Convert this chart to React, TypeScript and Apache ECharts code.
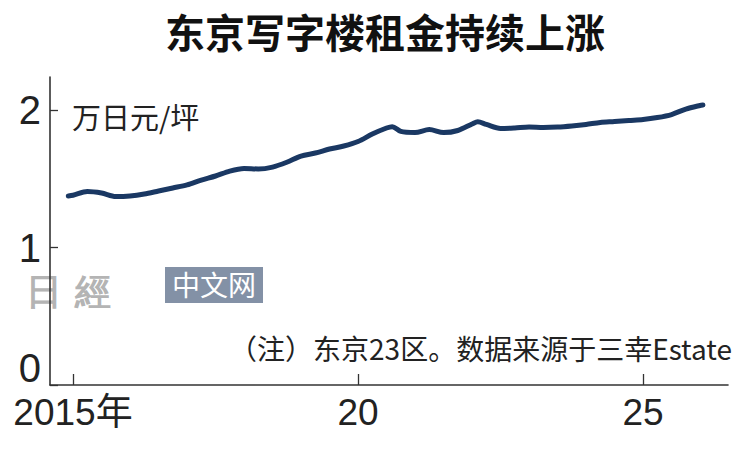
import React, { useEffect, useRef } from "react";
import * as echarts from "echarts";

const years = [
  2014.917, 2015.0, 2015.25, 2015.5, 2015.75, 2016.0, 2016.25, 2016.5, 2016.75,
  2017.0, 2017.25, 2017.5, 2017.75, 2018.0, 2018.25, 2018.5, 2018.75,
  2019.0, 2019.25, 2019.5, 2019.75, 2020.0, 2020.25, 2020.5, 2020.6, 2020.75,
  2021.0, 2021.25, 2021.5, 2021.75, 2022.0, 2022.1, 2022.25, 2022.5, 2022.75,
  2023.0, 2023.25, 2023.5, 2023.75, 2024.0, 2024.25, 2024.5, 2024.75,
  2025.0, 2025.25, 2025.5, 2025.75, 2026.0, 2026.05,
];
const rents = [
  1.375, 1.38, 1.407, 1.396, 1.371, 1.375, 1.389, 1.411, 1.433,
  1.455, 1.49, 1.52, 1.556, 1.575, 1.571, 1.585, 1.62,
  1.665, 1.687, 1.716, 1.738, 1.771, 1.825, 1.869, 1.879, 1.844,
  1.836, 1.858, 1.836, 1.851, 1.898, 1.915, 1.895, 1.865, 1.869,
  1.876, 1.873, 1.876, 1.884, 1.895, 1.909, 1.916, 1.924,
  1.931, 1.945, 1.967, 2.007, 2.033, 2.036,
];
const xTickValues = [2015, 2020, 2025];
const xTickLabels = ["2015年", "20", "25"];
const yTickValues = [0, 1, 2];

const cjk = "'Noto Sans CJK SC', sans-serif";
const num = "'Liberation Sans', 'Noto Sans CJK SC', sans-serif";

export default function App() {
  const ref = useRef<HTMLDivElement>(null);
  useEffect(() => {
    if (!ref.current) return;
    const chart = echarts.init(ref.current, null, { renderer: "svg" });
    const data = years.map((y, i) => [y, rents[i]]);
    chart.setOption({
      animation: false,
      backgroundColor: "#ffffff",
      title: {
        text: "东京写字楼租金持续上涨",
        left: 160,
        top: 6,
        textStyle: { fontFamily: cjk, fontWeight: "bold", fontSize: 40, color: "#111" },
      },
      grid: { left: 50, right: 9, top: 77, bottom: 65 },
      xAxis: {
        type: "value",
        min: 2014.596,
        max: 2026.49,
        splitLine: { show: false },
        axisLine: { show: true, lineStyle: { color: "#333", width: 1.6 } },
        axisTick: {
          show: true,
          inside: true,
          length: 11,
          customValues: xTickValues,
          lineStyle: { color: "#333", width: 1.3 },
        },
        axisLabel: {
          customValues: xTickValues,
          margin: 10,
          lineHeight: 34,
          fontFamily: num,
          fontSize: 37,
          color: "#222",
          formatter: (v: number) => xTickLabels[xTickValues.indexOf(v)] ?? "",
        },
      },
      yAxis: {
        type: "value",
        min: 0,
        max: 2.24,
        splitLine: { show: false },
        axisLine: { show: true, lineStyle: { color: "#333", width: 1.6 } },
        axisTick: {
          show: true,
          inside: true,
          length: 8,
          customValues: yTickValues,
          lineStyle: { color: "#333", width: 1.3 },
        },
        axisLabel: {
          customValues: yTickValues,
          margin: 9,
          lineHeight: 34,
          fontFamily: num,
          fontSize: 40,
          color: "#222",
          verticalAlignMinLabel: "bottom",
        },
      },
      graphic: [
        {
          type: "text",
          left: 72,
          top: 101,
          style: { text: "万日元/坪", font: `29px ${cjk}`, fill: "#222" },
        },
        {
          type: "text",
          right: 5,
          top: 334,
          style: { text: "（注）东京23区。数据来源于三幸Estate", font: `28px ${cjk}`, fill: "#222" },
        },
        {
          type: "text",
          left: 26,
          top: 273,
          style: {
            text: "日 經",
            font: `bold 36px 'DejaVu Serif', serif`,
            fill: "#a0a0a0",
            opacity: 0.8,
          },
        },
        {
          type: "rect",
          left: 165,
          top: 267,
          shape: { width: 98, height: 36 },
          style: { fill: "#8391a6" },
        },
        {
          type: "text",
          left: 172,
          top: 270,
          style: { text: "中文网", font: `28px ${cjk}`, fill: "#ffffff" },
        },
      ],
      series: [
        {
          type: "line",
          data,
          showSymbol: false,
          smooth: 0.3,
          lineStyle: { color: "#1a3863", width: 5, cap: "round", join: "round" },
        },
      ],
    });
    return () => chart.dispose();
  }, []);
  return <div ref={ref} style={{ width: 737, height: 450, position: "absolute", left: 0, top: 0 }} />;
}
